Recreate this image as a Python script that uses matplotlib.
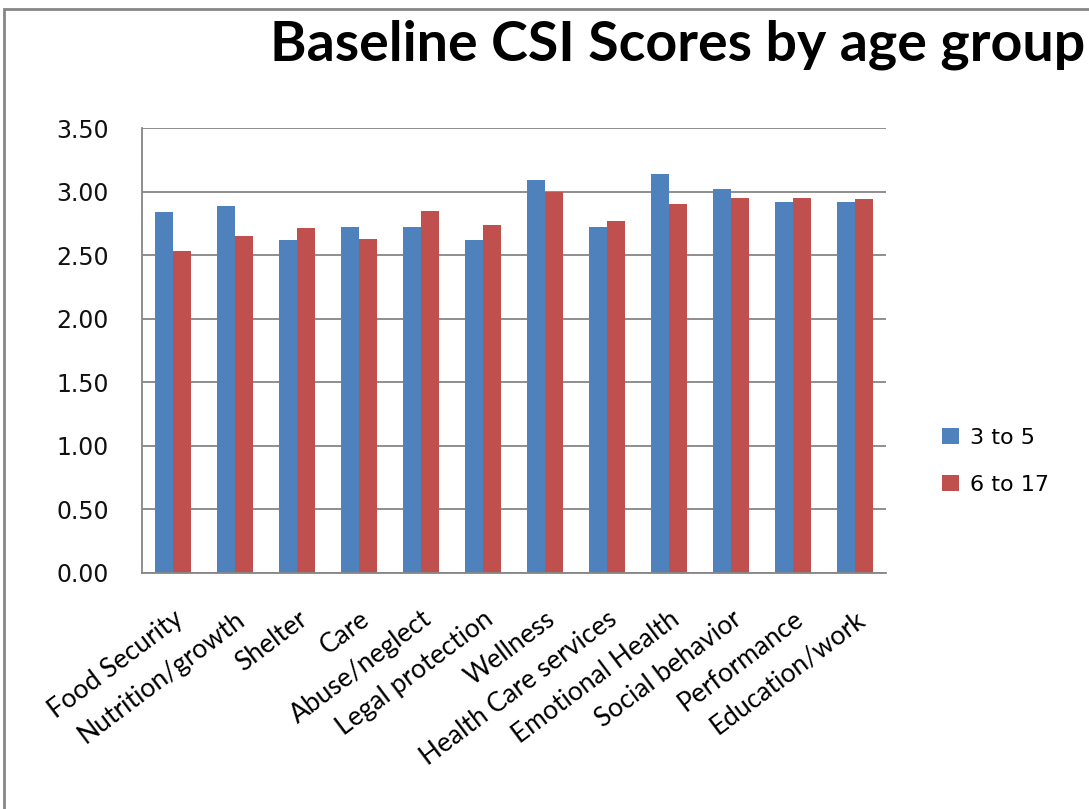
import matplotlib
matplotlib.use('Agg')
import matplotlib.pyplot as plt
import numpy as np
from matplotlib.patches import Rectangle

# data
categories = ['Food Security', 'Nutrition/growth', 'Shelter', 'Care', 'Abuse/neglect',
              'Legal protection', 'Wellness', 'Health Care services', 'Emotional Health',
              'Social behavior', 'Performance', 'Education/work']
age_3_5 = [2.84, 2.89, 2.62, 2.72, 2.72, 2.62, 3.09, 2.72, 3.14, 3.02, 2.92, 2.92]
age_6_17 = [2.53, 2.65, 2.71, 2.63, 2.85, 2.74, 3.00, 2.77, 2.90, 2.95, 2.95, 2.94]
series_names = ['3 to 5', '6 to 17']

blue = '#4F81BD'
red = '#C0504D'
grey = '#868686'

fig = plt.figure(figsize=(10.89, 8.09), dpi=100)
ax = fig.add_axes([142 / 1089, 1 - 573 / 809, 744 / 1089, 445 / 809])

x = np.arange(len(categories))
w = 0.286
b1 = ax.bar(x - w / 2, age_3_5, w, color=blue, label=series_names[0])
b2 = ax.bar(x + w / 2, age_6_17, w, color=red, label=series_names[1])

ax.set_xlim(-0.5, len(categories) - 0.5)
ax.set_ylim(0, 3.5)
ax.set_yticks(np.arange(0, 3.51, 0.5))
ax.set_yticklabels(['%.2f' % v for v in np.arange(0, 3.51, 0.5)],
                   fontsize=17, family='DejaVu Sans', color='#111111')
ax.tick_params(axis='y', length=0, pad=24)
ax.tick_params(axis='x', length=0, pad=24)
ax.set_xticks(x)
ax.set_xticklabels(categories, rotation=37, ha='right', va='top',
                   rotation_mode='anchor', fontsize=19, family='Lato')

ax.yaxis.grid(True, color=grey, linewidth=1.3)
ax.set_axisbelow(True)
for s in ['top', 'right']:
    ax.spines[s].set_visible(False)
for s in ['left', 'bottom']:
    ax.spines[s].set_color(grey)
    ax.spines[s].set_linewidth(1.3)

fig.text(678 / 1089, 1 - 45 / 809, 'Baseline CSI Scores by age group',
         ha='center', va='center', fontsize=40, fontweight='bold', family='Lato')

leg = fig.legend(handles=[b1, b2], labels=series_names, loc='upper left',
                 bbox_to_anchor=(922 / 1089, 1 - 408 / 809), frameon=False,
                 prop={'family': 'DejaVu Sans', 'size': 16},
                 handlelength=0.75, handleheight=0.75, labelspacing=1.2,
                 handletextpad=0.5)

# chart border
fig.patches.append(Rectangle((4 / 1089, -0.01), 1.1, 1 - 9 / 809 + 0.01,
                             transform=fig.transFigure, fill=False,
                             edgecolor=grey, linewidth=2))

fig.savefig('out.png', dpi=100)
